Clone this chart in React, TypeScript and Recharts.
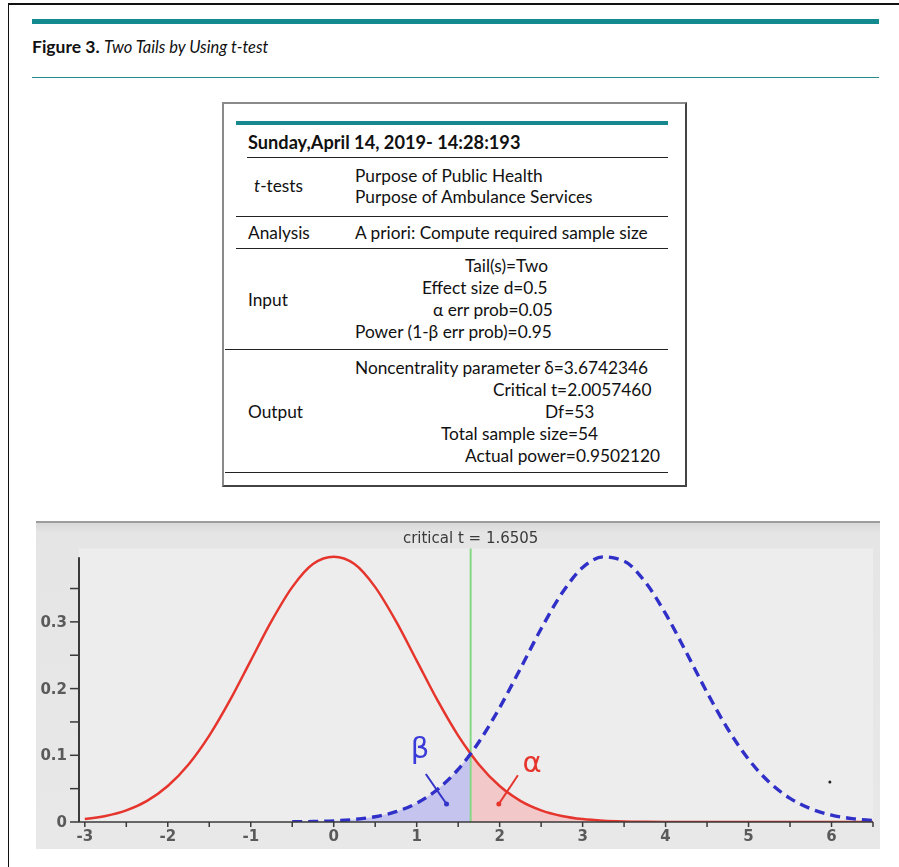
import React from "react";
import {
  ComposedChart,
  Line,
  Area,
  XAxis,
  YAxis,
  CartesianGrid,
  ReferenceLine,
  ReferenceDot,
} from "recharts";

// critical value of the test statistic
const criticalT = 1.6505;

// sample points along the t axis
const tGrid = [
  -3, -2.75, -2.5, -2.25, -2, -1.75, -1.5, -1.25, -1, -0.75, -0.5, -0.25,
  0, 0.25, 0.5, 0.75, 1, 1.25, 1.5, 1.6505, 1.75, 2, 2.25, 2.5, 2.75, 3,
  3.25, 3.5, 3.75, 4, 4.25, 4.5, 4.75, 5, 5.25, 5.5, 5.75, 6, 6.25, 6.5,
];

// central t density (H0), solid red
const h0Density = [
  0.0044, 0.0091, 0.0175, 0.0317, 0.054, 0.0863, 0.1295, 0.1826, 0.242, 0.3011, 0.3521, 0.3867,
  0.3975, 0.3867, 0.3521, 0.3011, 0.242, 0.1826, 0.1295, 0.1023, 0.0863, 0.054, 0.0317, 0.0175,
  0.0091, 0.0044, 0.002, 0.0009, 0.0004, 0.0001, 0, 0, 0, 0, 0, 0, 0, 0, 0, 0,
];

// noncentral t density (H1), dashed blue
const h1Density = [
  null, null, null, null, null, null, null, null, null, null, 0.0003, 0.0007,
  0.0017, 0.0038, 0.0079, 0.0154, 0.0283, 0.0488, 0.079, 0.1023, 0.12, 0.1714, 0.2299, 0.2897,
  0.3429, 0.3814, 0.3975, 0.391, 0.3605, 0.3123, 0.2541, 0.1942, 0.1394, 0.094, 0.0596, 0.0355,
  0.0198, 0.0104, 0.0051, 0.0024,
];

const xTicks = [-3, -2.5, -2, -1.5, -1, -0.5, 0, 0.5, 1, 1.5, 2, 2.5, 3, 3.5, 4, 4.5, 5, 5.5, 6, 6.5];
const yTicks = [0, 0.05, 0.1, 0.15, 0.2, 0.25, 0.3, 0.35];
const yLabels = [0, 0.1, 0.2, 0.3];

const data = tGrid.map((t, i) => ({
  t,
  h0: h0Density[i],
  h1: h1Density[i],
  beta: t <= criticalT ? h1Density[i] : null,
  alpha: t >= criticalT ? h0Density[i] : null,
}));

const X_MIN = -3.07;
const X_MAX = 6.5;

const TICK_FILL = "#5a5a5a";
const TICK_FONT = "'DejaVu Sans', sans-serif";

function XTick({ x, y, payload }: any) {
  const v = payload.value;
  if (!Number.isInteger(v)) return null;
  return (
    <text x={x} y={y + 13} textAnchor="middle" fill={TICK_FILL} fontSize={15} fontWeight="bold" fontFamily={TICK_FONT}>
      {String(v)}
    </text>
  );
}

function YTick({ x, y, payload }: any) {
  const v = payload.value;
  if (!yLabels.includes(v)) return null;
  return (
    <text x={x} y={y + 5} textAnchor="end" fill={TICK_FILL} fontSize={15} fontWeight="bold" fontFamily={TICK_FONT}>
      {v === 0 ? "0" : v.toFixed(1)}
    </text>
  );
}

function Txt({ x, y, size = 17.3, children, style }: any) {
  return (
    <div
      style={{
        position: "absolute",
        left: x,
        top: y - size * 0.6,
        fontSize: size,
        lineHeight: `${size * 1.2}px`,
        whiteSpace: "nowrap",
        color: "#111",
        ...style,
      }}
    >
      {children}
    </div>
  );
}

function Rule({ x1, x2, y, h = 1, color = "#222" }: any) {
  return (
    <div style={{ position: "absolute", left: x1, top: y, width: x2 - x1, height: h, background: color }} />
  );
}

function PowerPlot() {
  return (
    <div
      style={{
        position: "absolute",
        left: 36,
        top: 521,
        width: 844,
        height: 328,
        boxSizing: "border-box",
        borderTop: "2px solid #9c9c9c",
        background: "linear-gradient(#d8d8d8 0px, #e5e5e5 10px, #e8e8e8 100%)",
        filter: "blur(0.45px)",
      }}
    >
      <ComposedChart width={844} height={326} data={data} margin={{ top: 25.5, right: 7, left: 0, bottom: 0 }}>
        <CartesianGrid horizontal={false} vertical={false} fill="#ededed" />
        <XAxis
          dataKey="t"
          type="number"
          domain={[X_MIN, X_MAX]}
          allowDataOverflow
          ticks={xTicks}
          interval={0}
          height={27}
          axisLine={{ stroke: "#3a3a3a", strokeWidth: 1.5 }}
          tickLine={{ stroke: "#3a3a3a", strokeWidth: 1.5 }}
          tickSize={5}
          tickMargin={1}
          tick={<XTick />}
        />
        <YAxis
          type="number"
          domain={[0, 0.41]}
          allowDataOverflow
          ticks={yTicks}
          interval={0}
          width={43}
          axisLine={false}
          tickLine={{ stroke: "#3a3a3a", strokeWidth: 1.5 }}
          tickSize={9}
          tickMargin={3}
          tick={<YTick />}
        />
        <ReferenceLine
          segment={[{ x: X_MIN, y: 0 }, { x: X_MIN, y: 0.397 }]}
          stroke="#3a3a3a"
          strokeWidth={2}
          ifOverflow="visible"
        />
        <Area
          dataKey="beta"
          type="monotone"
          stroke="none"
          fill="#c4c4ee"
          fillOpacity={1}
          isAnimationActive={false}
        />
        <Area
          dataKey="alpha"
          type="monotone"
          stroke="none"
          fill="#f3c8c8"
          fillOpacity={1}
          isAnimationActive={false}
        />
        <ReferenceLine
          x={criticalT}
          stroke="#86d886"
          strokeWidth={2}
          label={{
            value: "critical t = 1.6505",
            position: "top",
            offset: 6,
            fill: "#3a3a3a",
            fontSize: 15,
            fontFamily: "DejaVu Sans",
          }}
        />
        <Line
          dataKey="h0"
          type="monotone"
          stroke="#e5352d"
          strokeWidth={2.5}
          dot={false}
          isAnimationActive={false}
        />
        <Line
          dataKey="h1"
          type="monotone"
          stroke="#3030c8"
          strokeWidth={3.4}
          strokeDasharray="10 6"
          dot={false}
          isAnimationActive={false}
        />
        {/* beta and alpha pointers */}
        <ReferenceLine segment={[{ x: 1.11, y: 0.072 }, { x: 1.36, y: 0.027 }]} stroke="#3434c8" strokeWidth={2} />
        <ReferenceDot x={1.36} y={0.027} r={2.5} fill="#3434c8" stroke="none" />
        <ReferenceDot
          x={1.04}
          y={0.112}
          r={1}
          fill="none"
          stroke="none"
          label={{ value: "β", position: "center", fill: "#3a3ad8", fontSize: 29, fontFamily: "DejaVu Sans" }}
        />
        <ReferenceLine segment={[{ x: 2.22, y: 0.07 }, { x: 1.99, y: 0.027 }]} stroke="#e5352d" strokeWidth={2} />
        <ReferenceDot x={1.99} y={0.027} r={2.5} fill="#e5352d" stroke="none" />
        <ReferenceDot
          x={2.39}
          y={0.09}
          r={1}
          fill="none"
          stroke="none"
          label={{ value: "α", position: "center", fill: "#e5352d", fontSize: 29, fontFamily: "DejaVu Sans" }}
        />
        <ReferenceDot x={5.98} y={0.06} r={1.5} fill="#222" stroke="none" />
      </ComposedChart>
    </div>
  );
}

export default function App() {
  return (
    <div
      style={{
        position: "absolute",
        left: 0,
        top: 0,
        width: 899,
        height: 867,
        background: "#fff",
        fontFamily: "Lato, 'Open Sans', sans-serif",
        overflow: "hidden",
      }}
    >
      {/* page frame */}
      <div style={{ position: "absolute", left: 8, top: 3, width: 891, height: 2, background: "#111" }} />
      <div style={{ position: "absolute", left: 8, top: 3, width: 1, height: 864, background: "#111" }} />

      {/* caption */}
      <Rule x1={32} x2={879} y={19} h={5} color="#138a8f" />
      <Txt x={32} y={46} size={17.5}>
        <b>Figure 3.</b> <i style={{ fontSize: 16.5 }}>Two Tails by Using t-test</i>
      </Txt>
      <Rule x1={32} x2={879} y={77} h={1} color="#2a8a8c" />

      {/* G*Power protocol table */}
      <div
        style={{
          position: "absolute",
          left: 222,
          top: 102,
          width: 465,
          height: 385,
          boxSizing: "border-box",
          borderTop: "2px solid #8a8a8a",
          borderLeft: "2px solid #8a8a8a",
          borderRight: "2px solid #444",
          borderBottom: "2px solid #444",
        }}
      />
      <Rule x1={236} x2={668} y={121} h={4} color="#17898e" />
      <Txt x={248} y={143} size={18.2} style={{ fontWeight: 700 }}>Sunday,April 14, 2019- 14:28:193</Txt>
      <Rule x1={247} x2={668} y={157} />

      <Txt x={254} y={186}>
        <i>t</i>-tests
      </Txt>
      <Txt x={355} y={176}>Purpose of Public Health</Txt>
      <Txt x={355} y={197}>Purpose of Ambulance Services</Txt>
      <Rule x1={236} x2={668} y={216} />

      <Txt x={248} y={233}>Analysis</Txt>
      <Txt x={355} y={233}>A priori: Compute required sample size</Txt>
      <Rule x1={236} x2={668} y={248} />

      <Txt x={248} y={300}>Input</Txt>
      <Txt x={465} y={266}>Tail(s)=Two</Txt>
      <Txt x={422} y={288}>Effect size d=0.5</Txt>
      <Txt x={433} y={310}>α err prob=0.05</Txt>
      <Txt x={355} y={332}>Power (1-β err prob)=0.95</Txt>
      <Rule x1={225} x2={668} y={349} />

      <Txt x={248} y={412}>Output</Txt>
      <Txt x={355} y={368}>Noncentrality parameter δ=3.6742346</Txt>
      <Txt x={493} y={390}>Critical t=2.0057460</Txt>
      <Txt x={545} y={412}>Df=53</Txt>
      <Txt x={441} y={434}>Total sample size=54</Txt>
      <Txt x={465} y={456}>Actual power=0.9502120</Txt>
      <Rule x1={225} x2={668} y={472} />

      <PowerPlot />
    </div>
  );
}
